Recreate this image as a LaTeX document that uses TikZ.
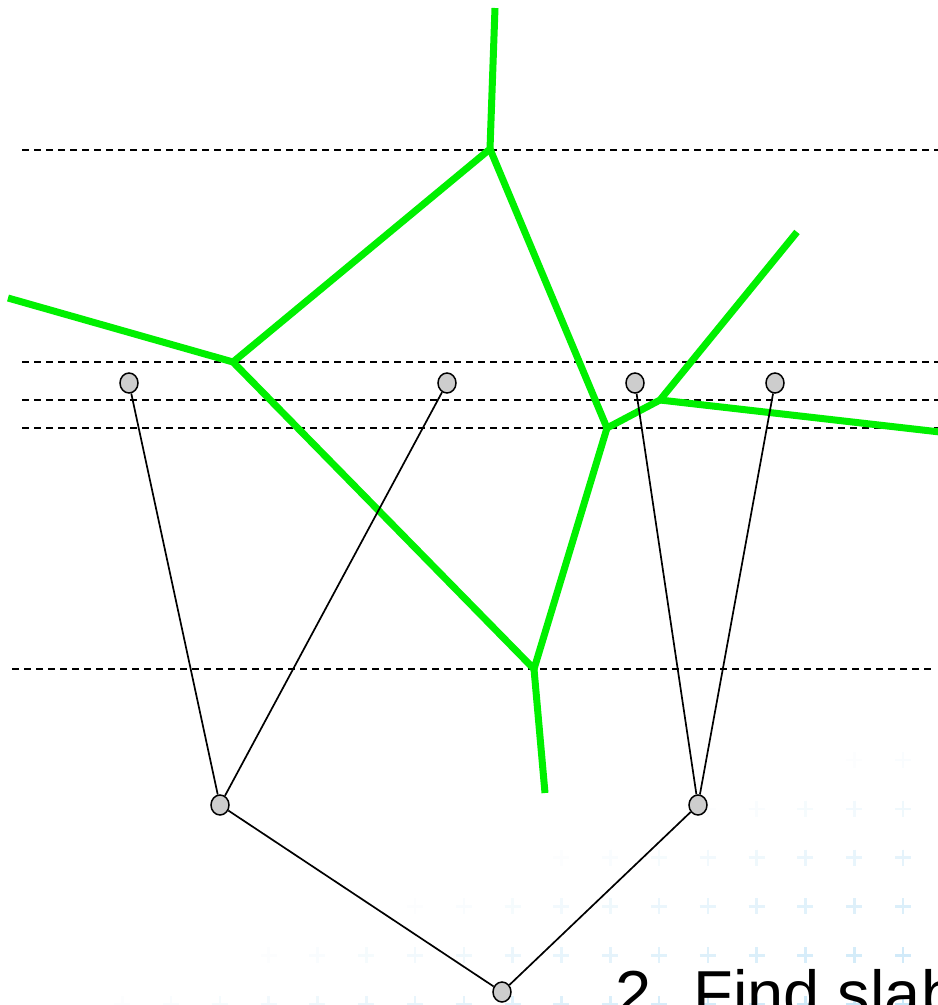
\documentclass[tikz,border=0pt]{standalone}
\usepackage{fontspec}
\setmainfont{Liberation Sans}
\usetikzlibrary{shapes.geometric}
\definecolor{vgreen}{RGB}{0,240,0}
\definecolor{pluscol}{RGB}{200,231,248}
\definecolor{nodegray}{RGB}{205,205,205}
\tikzset{
  sweep/.style={draw=black,line width=1.6pt,dash pattern=on 7pt off 5pt},
  voronoi/.style={draw=vgreen,line width=7pt,line join=miter},
  treeedge/.style={draw=black,line width=1.7pt},
  treenode/.style={ellipse,draw=black,fill=nodegray,line width=1.5pt,minimum width=18pt,minimum height=20pt,inner sep=0pt},
  plusmark/.style={draw=pluscol,line width=2.6pt},
  caption/.style={anchor=base west,inner sep=0pt,font=\fontsize{65}{72}\selectfont}
}
\begin{document}
\begin{tikzpicture}[x=1pt,y=-1pt]
\useasboundingbox (0,0) rectangle (938,1005);
\fill[white] (0,0) rectangle (938,1005);
% background plus pattern
\foreach \i in {0,...,18}{
  \foreach \j in {0,...,6}{
    \pgfmathsetmacro{\px}{903-48.8*\i}
    \pgfmathsetmacro{\py}{1004-48.8*\j}
    \pgfmathsetmacro{\op}{max(0,min(1,(\px+3*\py-3100)/800))}
    \ifdim\op pt>0.01pt
      \draw[plusmark,draw opacity=\op] (\px-8,\py) -- (\px+8,\py) (\px,\py-8) -- (\px,\py+8);
    \fi
  }
}
% sweep lines
\coordinate (s1a) at (22,150);  \coordinate (s1b) at (938,150);
\coordinate (s2a) at (22,362);  \coordinate (s2b) at (938,362);
\coordinate (s3a) at (22,400);  \coordinate (s3b) at (938,400);
\coordinate (s4a) at (22,428);  \coordinate (s4b) at (938,428);
\coordinate (s5a) at (12,669);  \coordinate (s5b) at (932,669);
\draw[sweep] (s1a) -- (s1b);
\draw[sweep] (s2a) -- (s2b);
\draw[sweep] (s3a) -- (s3b);
\draw[sweep] (s4a) -- (s4b);
\draw[sweep] (s5a) -- (s5b);
% voronoi diagram
\coordinate (vA) at (490,149);
\coordinate (vB) at (233,362);
\coordinate (vC) at (607,428);
\coordinate (vD) at (660,400);
\coordinate (vE) at (534,669);
\coordinate (vtop) at (495,8);
\coordinate (vleft) at (8,298);
\coordinate (vne) at (797,232);
\coordinate (vright) at (940,432);
\coordinate (vbot) at (545,793);
\draw[voronoi] (vtop) -- (vA) -- (vB) -- (vleft);
\draw[voronoi] (vA) -- (vC) -- (vE) -- (vB);
\draw[voronoi] (vE) -- (vbot);
\draw[voronoi] (vC) -- (vD) -- (vne);
\draw[voronoi] (vD) -- (vright);
% tree
\node[treenode] (n1) at (129,383) {};
\node[treenode] (n2) at (447,383) {};
\node[treenode] (n3) at (635,383) {};
\node[treenode] (n4) at (775,383) {};
\node[treenode] (m1) at (220,805) {};
\node[treenode] (m2) at (698,805) {};
\node[treenode] (r) at (502,992) {};
\draw[treeedge] (n1) -- (m1);
\draw[treeedge] (n2) -- (m1);
\draw[treeedge] (n3) -- (m2);
\draw[treeedge] (n4) -- (m2);
\draw[treeedge] (m1) -- (r);
\draw[treeedge] (m2) -- (r);
% caption (cut off at the page edge, as in the reference)
\node[caption] (cap) at (615,1016) {2. Find slab};
\end{tikzpicture}
\end{document}
